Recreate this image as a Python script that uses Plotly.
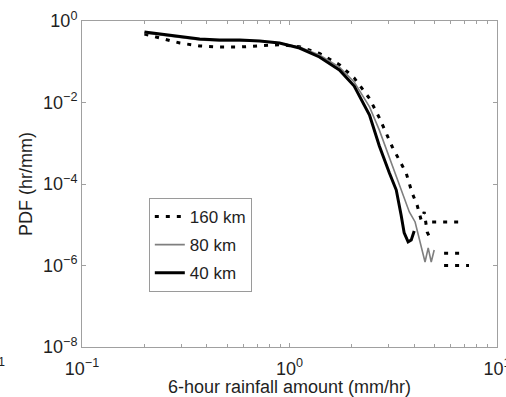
import plotly.graph_objects as go

# ---- data ----
x_160 = [0.2, 0.237, 0.296, 0.369, 0.46, 0.575, 0.718, 0.895, 1.117, 1.394, 1.74, 2.05, 2.43, 2.71,
         3.13, 3.65, 3.90, 4.12, 4.31, 4.46, 4.61, 4.76,
         None, 4.87, 6.94, None, 5.56, 6.94, None, 5.56, 7.33]
y_160 = [0.48, 0.38, 0.288, 0.244, 0.23, 0.23, 0.244, 0.262, 0.235, 0.16, 0.085, 0.040, 0.0125, 0.0042,
         8.1e-4, 1.86e-4, 6.0e-5, 3.05e-5, 1.31e-5, 2.06e-5, 6.6e-6, 4.7e-6,
         None, 1.17e-5, 1.17e-5, None, 2.0e-6, 2.0e-6, None, 1.0e-6, 1.0e-6]

x_80 = [0.2, 0.237, 0.296, 0.369, 0.46, 0.575, 0.718, 0.895, 1.117, 1.394, 1.74, 2.05, 2.43, 2.71,
        3.03, 3.27, 3.49, 3.78, 4.03, 4.22, 4.36, 4.50, 4.66, 4.82, 4.98]
y_80 = [0.51, 0.453, 0.382, 0.342, 0.323, 0.323, 0.323, 0.288, 0.23, 0.146, 0.074, 0.0318, 0.0078, 0.0021,
        4.4e-4, 1.4e-4, 6.0e-5, 2.06e-5, 1.17e-5, 4.23e-6, 2.4e-6, 1.22e-6, 2.7e-6, 1.22e-6, 2.4e-6]

x_40 = [0.2, 0.237, 0.296, 0.369, 0.46, 0.575, 0.718, 0.895, 1.117, 1.394, 1.74, 2.05, 2.43, 2.71,
        3.03, 3.27, 3.45, 3.57, 3.73, 3.86, 3.99]
y_40 = [0.537, 0.48, 0.405, 0.361, 0.342, 0.342, 0.323, 0.288, 0.217, 0.131, 0.063, 0.0254, 0.00493, 8.6e-4,
        1.86e-4, 7.1e-5, 1.74e-5, 6.3e-6, 3.8e-6, 4.2e-6, 7.0e-6]

series_names = ["160 km", "80 km", "40 km"]

x_tickvals = [0.1, 1, 10]
x_ticktext = ["10<sup>\u22121</sup>", "10<sup>0</sup>", "10<sup>1</sup>"]
x_minorvals = [0.2, 0.3, 0.4, 0.5, 0.6, 0.7, 0.8, 0.9, 2, 3, 4, 5, 6, 7, 8, 9]
y_tickvals = [1, 1e-2, 1e-4, 1e-6, 1e-8]
y_ticktext = ["10<sup>0</sup>", "10<sup>\u22122</sup>", "10<sup>\u22124</sup>",
              "10<sup>\u22126</sup>", "10<sup>\u22128</sup>"]

FONT = "Liberation Sans, Arial, Helvetica, sans-serif"
AX = "#a0a0a0"
TXT = "#1f1f1f"

fig = go.Figure()
fig.add_trace(go.Scatter(x=x_160, y=y_160, mode="lines", name=series_names[0],
                         line=dict(color="black", width=3, dash="4px,7px"),
                         connectgaps=False, legendgroup="a"))
fig.add_trace(go.Scatter(x=x_80, y=y_80, mode="lines", name=series_names[1],
                         line=dict(color="#7f7f7f", width=1.6), legendgroup="b"))
fig.add_trace(go.Scatter(x=x_40, y=y_40, mode="lines", name=series_names[2],
                         line=dict(color="black", width=3), legendgroup="c"))

axis_common = dict(showline=True, linecolor=AX, linewidth=1, mirror="ticks",
                   ticks="inside", ticklen=4, tickcolor=AX, showgrid=False, zeroline=False,
                   ticklabeloverflow="allow",
                   tickfont=dict(family=FONT, size=18, color=TXT))

fig.update_xaxes(type="log", range=[-1, 1], tickmode="array", tickvals=x_tickvals,
                 ticktext=x_ticktext, ticklabelstandoff=5,
                 minor=dict(tickmode="array", tickvals=x_minorvals, ticks="inside",
                            ticklen=3, tickcolor=AX),
                 title=dict(text="6-hour rainfall amount (mm/hr)",
                            font=dict(family=FONT, size=18, color=TXT), standoff=6),
                 **axis_common)
fig.update_yaxes(type="log", range=[-8, 0], tickmode="array", tickvals=y_tickvals,
                 ticktext=y_ticktext,
                 title=dict(text="PDF (hr/mm)", font=dict(family=FONT, size=18, color=TXT),
                            standoff=5),
                 **axis_common)

fig.add_annotation(text="<sup>1</sup>", xref="paper", yref="paper", x=-0.195, y=-0.045,
                   showarrow=False, font=dict(family=FONT, size=18, color=TXT),
                   xanchor="center", yanchor="middle")

fig.update_layout(
    width=506, height=397,
    margin=dict(l=82, r=9, t=21, b=50, autoexpand=False),
    paper_bgcolor="white", plot_bgcolor="white",
    showlegend=True,
    legend=dict(x=0.161, y=0.457, xanchor="left", yanchor="top",
                bgcolor="white", bordercolor="#9a9a9a", borderwidth=1,
                font=dict(family=FONT, size=17, color=TXT),
                tracegroupgap=3, itemwidth=30),
)

fig.write_html("out.html")
